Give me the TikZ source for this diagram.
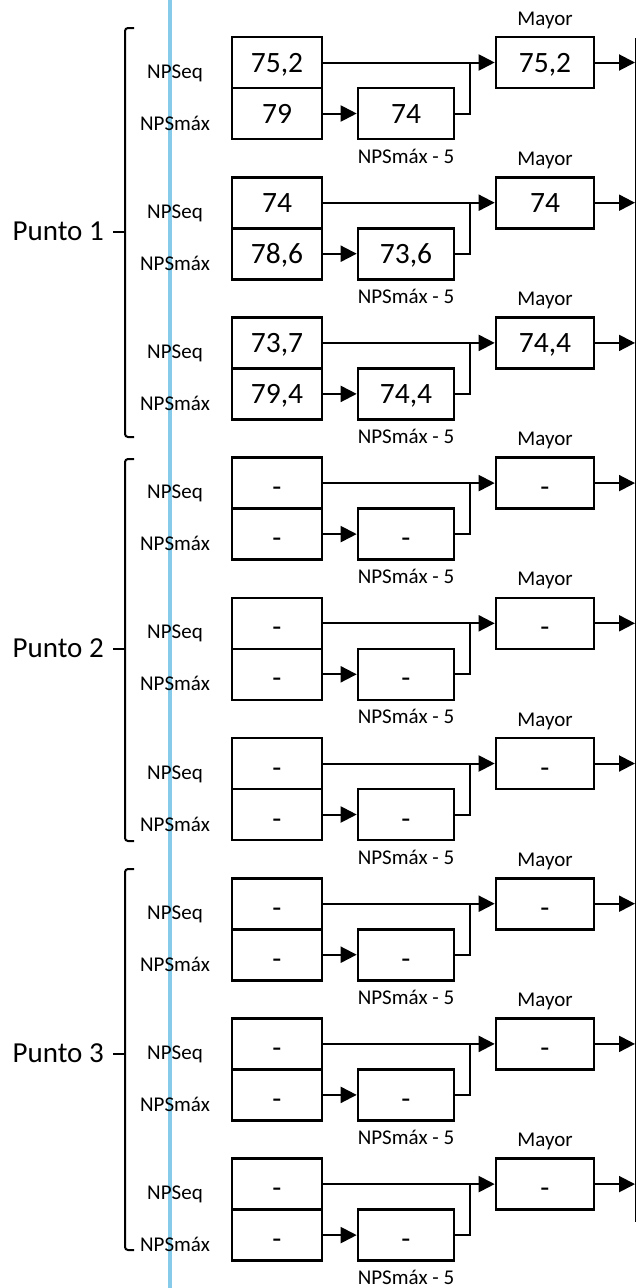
\documentclass[tikz,border=0pt]{standalone}
\usepackage{fontspec}
\setmainfont{Carlito}
\usetikzlibrary{arrows.meta}
\definecolor{guide}{HTML}{86CBEA}
\newcommand{\nodata}{\raisebox{-4pt}{-}}
\tikzset{
  valbox/.style={draw, line width=2.6pt, minimum width=90pt, minimum height=51pt,
                 inner sep=0pt, text height=19pt, text depth=0pt,
                 font=\fontsize{29.5}{30}\selectfont},
  redbox/.style={valbox, minimum width=96pt},
  maybox/.style={valbox, minimum width=98pt},
  tag/.style={font=\fontsize{21}{22}\selectfont, inner sep=0pt},
  punto/.style={font=\fontsize{29}{30}\selectfont, inner sep=0pt, anchor=east},
  flow/.style={line width=2pt, -{Triangle[length=16pt,width=16pt]}},
  brace/.style={line width=2pt, rounded corners=3pt},
}

\begin{document}
\begin{tikzpicture}[x=1pt, y=-1pt]
    \useasboundingbox (0,0) rectangle (637,1288);
    \draw[guide, line width=3.5pt] (170,0) -- (170,1288);
    \draw[line width=1.5pt] (635.5,38) -- (635.5,1222);
    % one block per measurement
    \foreach \i/\vs/\vm/\vr/\vg in {0/{75,2}/79/74/{75,2}, 1/74/{78,6}/{73,6}/74,
        2/{73,7}/{79,4}/{74,4}/{74,4}, 3/\nodata/\nodata/\nodata/\nodata,
        4/\nodata/\nodata/\nodata/\nodata, 5/\nodata/\nodata/\nodata/\nodata,
        6/\nodata/\nodata/\nodata/\nodata, 7/\nodata/\nodata/\nodata/\nodata,
        8/\nodata/\nodata/\nodata/\nodata} {
      \pgfmathsetmacro\T{37+140.2*\i}
      \node[valbox] (seq\i) at (277,{\T+25.5}) {\vs};
      \node[valbox] (max\i) at (277,{\T+76.5}) {\vm};
      \node[redbox] (red\i) at (406,{\T+76.5}) {\vr};
      \node[maybox] (may\i) at (545,{\T+25.5}) {\vg};
      \node[tag] (lseq\i) at (175,{\T+36}) {NPSeq};
      \node[tag] (lmax\i) at (175,{\T+86}) {NPSmáx};
      \node[tag] (lred\i) at (406,{\T+119}) {NPSmáx - 5};
      \node[tag] (lmay\i) at (545,{\T-17}) {Mayor};
      \coordinate (join\i) at (470,{\T+25.5});
      \coordinate (out\i) at (635,{\T+25.5});
      \draw[flow] (seq\i.east) -- (may\i.west);
      \draw[flow] (max\i.east) -- (red\i.west);
      \draw[line width=2pt] (red\i.east) -| (join\i);
      \draw[flow] (may\i.east) -- (out\i);
    }
    % brackets
    \node[punto] (pt1) at (104,231) {Punto 1};
    \draw[brace] (134,28) -- (125,28) -- (125,437) -- (134,437);
    \draw[line width=2pt] (113,232) -- (125,232);
    \node[punto] (pt2) at (104,648) {Punto 2};
    \draw[brace] (134,459) -- (125,459) -- (125,841) -- (134,841);
    \draw[line width=2pt] (113,649) -- (125,649);
    \node[punto] (pt3) at (104,1053) {Punto 3};
    \draw[brace] (134,869) -- (125,869) -- (125,1250) -- (134,1250);
    \draw[line width=2pt] (113,1054) -- (125,1054);
  \end{tikzpicture}
\end{document}
